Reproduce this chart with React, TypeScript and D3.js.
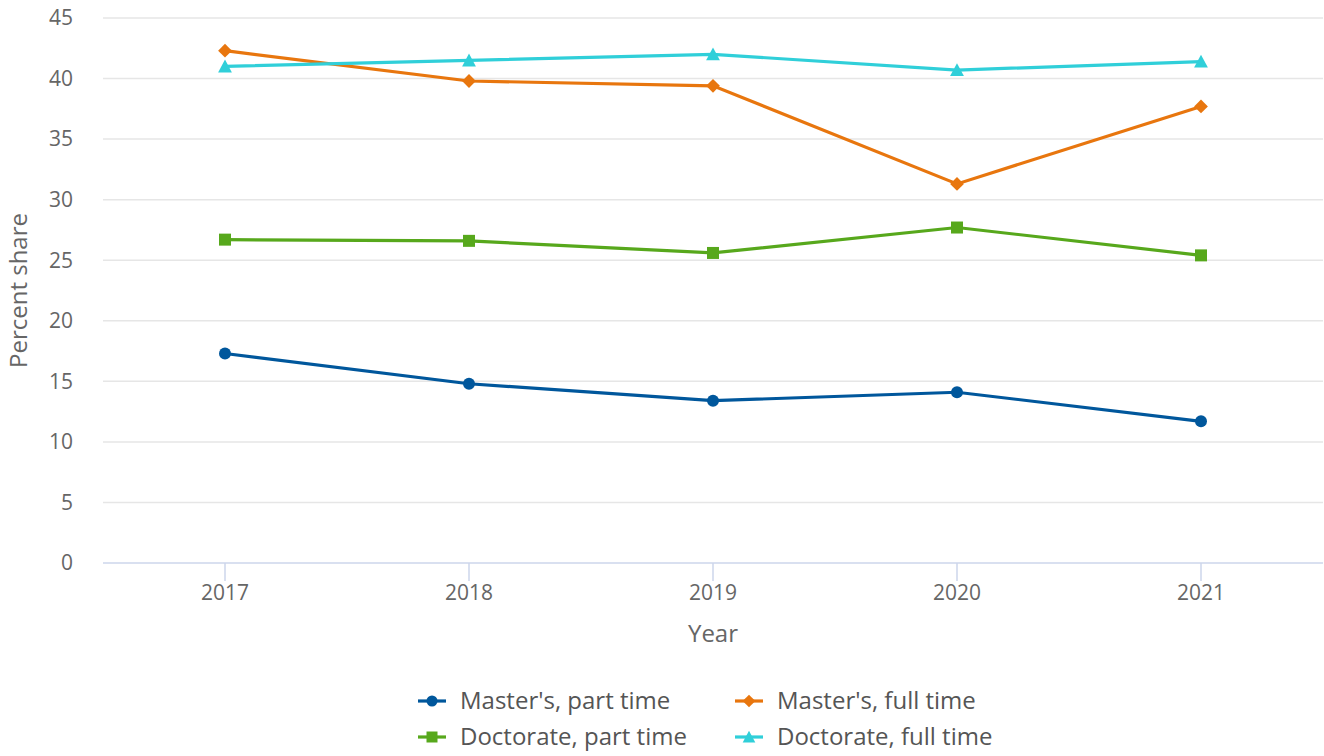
import React from 'react';
import * as d3 from 'd3';

const years = ['2017', '2018', '2019', '2020', '2021'];
const mastersPart = [17.3, 14.8, 13.4, 14.1, 11.7];
const mastersFull = [42.3, 39.8, 39.4, 31.3, 37.7];
const doctoratePart = [26.7, 26.6, 25.6, 27.7, 25.4];
const doctorateFull = [41.0, 41.5, 42.0, 40.7, 41.4];
const yTicks = [0, 5, 10, 15, 20, 25, 30, 35, 40, 45];

const series = [
  { name: "Master's, part time", values: mastersPart, color: '#00579c', kind: 'circle' },
  { name: "Doctorate, part time", values: doctoratePart, color: '#57a81c', kind: 'square' },
  { name: "Master's, full time", values: mastersFull, color: '#e8760e', kind: 'diamond' },
  { name: "Doctorate, full time", values: doctorateFull, color: '#30cfd9', kind: 'triangle' },
];

const W = 1324;
const H = 756;
const left = 103;
const right = 1323;
const top = 18;
const bottom = 563;
const font = '"Open Sans", sans-serif';

// marker shapes, r = half width
const marker = (kind: string, r: number) => {
  if (kind === 'circle') return d3.symbol().type(d3.symbolCircle).size(Math.PI * r * r)() || '';
  if (kind === 'square') return `M${-r},${-r}H${r}V${r}H${-r}Z`;
  if (kind === 'diamond') return `M0,${-r * 1.15}L${r * 1.15},0L0,${r * 1.15}L${-r * 1.15},0Z`;
  return `M0,${-r * 1.15}L${r * 1.15},${r}H${-r * 1.15}Z`;
};

const App = () => {
  const x = d3.scaleBand().domain(years).range([left, right]);
  const y = d3.scaleLinear().domain([0, 45]).range([bottom, top]);
  const cx = (yr: string) => (x(yr) as number) + x.bandwidth() / 2;
  const line = d3.line<number>().x((_, i) => cx(years[i])).y(d => y(d));

  const legendPos = [
    { x: 418, y: 701 },
    { x: 418, y: 737 },
    { x: 735, y: 701 },
    { x: 735, y: 737 },
  ];

  return (
    <svg width={W} height={H} style={{ position: 'absolute', left: 0, top: 0, fontFamily: font }}>
      <rect width={W} height={H} fill="#fff" />
      {yTicks.map(t => (
        <g key={t}>
          {t > 0 && <line x1={left} x2={right} y1={y(t)} y2={y(t)} stroke="#e6e6e6" strokeWidth={1.5} />}
          <text x={73} y={y(t)} dy="0.35em" textAnchor="end" fontSize={21} fill="#666">{t}</text>
        </g>
      ))}
      <line x1={left} x2={right} y1={bottom} y2={bottom} stroke="#ccd6eb" strokeWidth={1.5} />
      {years.map(yr => (
        <g key={yr}>
          <line x1={cx(yr)} x2={cx(yr)} y1={bottom} y2={bottom + 18} stroke="#ccd6eb" strokeWidth={1.5} />
          <text x={cx(yr)} y={600} textAnchor="middle" fontSize={21} fill="#666">{yr}</text>
        </g>
      ))}
      <text x={713} y={642} textAnchor="middle" fontSize={24} fill="#666">Year</text>
      <text transform={`translate(27,${(top + bottom) / 2}) rotate(-90)`} textAnchor="middle" fontSize={24} fill="#666">Percent share</text>

      {series.map(s => (
        <g key={s.name}>
          <path d={line(s.values) || ''} fill="none" stroke={s.color} strokeWidth={3.2} />
          {s.values.map((v, i) => (
            <path key={i} transform={`translate(${cx(years[i])},${y(v)})`}
              d={marker(s.kind, 6)} fill={s.color} />
          ))}
        </g>
      ))}

      {series.map((s, i) => {
        const p = legendPos[i];
        return (
          <g key={s.name} transform={`translate(${p.x},${p.y})`}>
            <line x1={0} x2={28} y1={0} y2={0} stroke={s.color} strokeWidth={3.2} />
            <path transform="translate(14,0)" d={marker(s.kind, 5.5)} fill={s.color} />
            <text x={42} y={0} dy="0.35em" fontSize={24} fill="#555">{s.name}</text>
          </g>
        );
      })}
    </svg>
  );
};

export default App;
